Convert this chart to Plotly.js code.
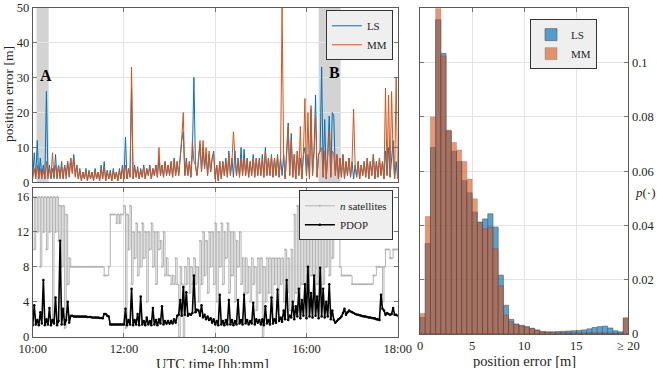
<!DOCTYPE html>
<html>
<head>
<meta charset="utf-8">
<script src="https://cdn.plot.ly/plotly-3.0.1.min.js"></script>
<style>html,body{margin:0;padding:0;background:#fff;}#chart{width:657px;height:368px;}</style>
</head>
<body>
<div id="chart"></div>
<script>
// ---- time axis (minutes after 10:00, one sample every 2 minutes) ----
const timeStart = 0;
const timeStep = 2;
const timeTickMinutes = [0, 120, 240, 360, 480];
const timeTickLabels = ['10:00', '12:00', '14:00', '16:00', '18:00'];

// ---- position error [m] ----
const lsError = [
  1, 8.5, 1.5, 12, 1, 7, 2, 5, 1, 26,
  2, 5, 1, 4, 1.5, 8, 1, 5, 1.5, 6,
  1, 5, 2, 6, 1.5, 7, 3, 8, 2, 5,
  1, 4, 0.5, 3, 1, 4, 0.5, 3.5, 1, 3,
  0.5, 4, 1, 3, 0.5, 5, 1, 6, 0.5, 3.5,
  1, 3.5, 0.5, 4, 1, 3, 0.5, 4, 1, 5,
  1, 13, 1, 4, 1.5, 27, 1, 5, 1.5, 4.5,
  1, 4, 1.5, 5, 1, 4, 2, 5, 1, 4,
  2, 5, 1.5, 7, 2, 5, 1.5, 6, 2, 5,
  2, 6, 1.5, 7, 2, 6, 2, 8, 12, 14.5,
  2, 7, 2, 6, 1.5, 8, 30, 5, 2, 6,
  11, 3, 10, 4, 8, 2, 8, 3, 7, 9,
  1, 5, 0.5, 6, 1, 6, 2, 7, 1.5, 9,
  2, 7, 1.5, 9, 2, 7, 1.5, 10, 2, 9.5,
  2, 7, 1.5, 6, 2, 8, 1.5, 7, 2, 7,
  2, 8, 1.5, 10, 2, 7, 2, 8, 1.5, 7,
  2, 8, 1.5, 7, 2, 8, 1, 9, 17, 2,
  14, 1.5, 8, 1, 9, 2, 7, 1, 8, 10,
  2, 8, 1, 21, 2, 9, 25, 1.5, 8, 9,
  33, 1.5, 18, 1, 8, 19, 1.5, 20, 19, 2,
  8, 1, 7, 1.5, 8, 1, 6, 2, 7, 1.5,
  6, 1, 5, 1.5, 6, 1, 5, 2, 6, 1.5,
  7, 1, 6, 2, 8, 1, 6, 1.5, 7, 2,
  6, 1, 9, 2, 10, 1.5, 7, 12, 1, 6, 1
];
const mmError = [
  1.5, 4, 1, 5, 1.5, 4, 1, 3.5, 1.5, 6,
  1, 4, 1.5, 8.5, 1, 5, 1.5, 5, 1, 4.5,
  1.5, 5, 1, 6, 2, 7, 2.5, 7, 1.5, 5,
  1, 3.5, 0.5, 3, 1, 3.5, 0.5, 3, 1, 3,
  0.5, 3.5, 1, 3, 0.5, 4, 1, 4.5, 0.5, 3,
  1, 3, 0.5, 3.5, 1, 3, 0.5, 3.5, 1, 4,
  1, 5, 1, 4, 1.5, 33, 1, 4.5, 1.5, 4,
  1, 3.5, 1.5, 4.5, 1, 4, 2, 4.5, 1, 4,
  2, 5, 1.5, 10, 2, 5, 1.5, 6, 2, 5,
  2, 6, 1.5, 6.5, 2, 6, 2, 7, 12.5, 20,
  2, 6, 2, 6, 1.5, 12, 6, 5, 2, 7,
  12, 3, 12, 4, 10, 2, 9, 3, 7, 8,
  1, 5, 0.5, 6, 1, 6, 2, 6, 1.5, 8,
  2, 6, 14.5, 7, 2, 6, 1.5, 7, 2, 7,
  2, 6.5, 1.5, 6, 2, 7, 1.5, 7, 2, 6.5,
  2, 7, 1.5, 9, 2, 7, 2, 7.5, 1.5, 7,
  2, 7.5, 1.5, 7, 50, 8, 1, 8, 16, 2,
  12, 1.5, 8, 1, 9, 2, 16, 1, 8, 24,
  2, 20, 1, 22, 2, 9, 19, 1.5, 8, 9,
  10, 1.5, 9, 1, 8, 15, 1.5, 9, 8, 2,
  8, 1, 7, 1.5, 8, 1, 6, 2, 7, 1.5,
  6, 21, 5, 1.5, 6, 1, 5, 2, 6, 1.5,
  7, 1, 6, 2, 8, 1, 6, 1.5, 7, 2,
  6, 1, 27, 2, 25, 1.5, 26, 7, 1, 30, 1
];

// ---- number of satellites and PDOP ----
const nSatellites = [
  16, 10, 16, 12, 16, 8, 16, 12, 16, 10,
  16, 12, 16, 2, 16, 12, 16, 11, 15, 8,
  15, 1, 14, 6, 9, 8, 8, 8, 8, 8,
  8, 8, 8, 8, 8, 8, 8, 8, 8, 8,
  8, 8, 8, 8, 8, 8, 8, 7, 7, 7,
  8, 14, 14, 14, 14, 13, 14, 13, 14, 14,
  15, 1, 14, 10, 15, 6, 12, 9, 13, 7,
  12, 8, 13, 9, 12, 4, 12, 10, 13, 8,
  12, 6, 12, 10, 11, 8, 12, 7, 9, 7,
  7, 6, 7, 6, 9, 6, 0, 8, 6, 0,
  8, 6, 9, 5, 8, 6, 9, 6, 8, 4,
  11, 6, 12, 7, 11, 5, 12, 8, 12, 6,
  13, 4, 12, 8, 13, 6, 12, 9, 13, 5,
  12, 7, 12, 4, 11, 8, 12, 6, 9, 5,
  9, 5, 8, 4, 9, 6, 8, 3, 9, 5,
  9, 0, 8, 4, 9, 5, 9, 3, 9, 6,
  9, 3, 9, 6, 9, 4, 10, 5, 9, 3,
  10, 4, 14, 5, 15, 3, 16, 6, 14, 4,
  16, 5, 15, 7, 16, 4, 15, 6, 16, 5,
  15, 6, 16, 8, 15, 7, 16, 9, 16, 15,
  13, 12, 8, 7, 7, 7, 7, 7, 7, 7,
  6, 6, 6, 6, 6, 6, 6, 6, 6, 6,
  6, 6, 6, 6, 7, 7, 8, 8, 8, 8,
  4, 8, 10, 10, 10, 9, 9, 10, 10, 10, 10
];
const pdop = [
  1.3, 3.6, 1.4, 1.9, 1.3, 2.8, 1.5, 6.5, 1.3, 2.0,
  1.4, 3.3, 1.3, 1.9, 1.5, 4.5, 1.3, 1.8, 11, 1.4,
  3.2, 1.4, 1.9, 4.0, 1.6, 2.4, 2.4, 2.3, 2.3, 2.3,
  2.3, 2.3, 2.3, 2.3, 2.3, 2.3, 2.25, 2.25, 2.25, 2.2,
  2.2, 2.2, 2.2, 2.2, 2.15, 2.15, 2.1, 2.6, 2.6, 2.4,
  2.3, 1.4, 1.4, 1.4, 1.4, 1.4, 1.4, 1.4, 1.4, 1.4,
  1.4, 3.2, 1.3, 1.9, 1.4, 5.5, 1.3, 1.9, 1.4, 2.6,
  1.3, 4.6, 1.4, 1.8, 1.3, 2.2, 1.4, 1.8, 1.3, 3.3,
  1.4, 1.9, 1.3, 2.0, 1.5, 3.5, 1.4, 1.8, 1.5, 1.8,
  1.5, 1.8, 1.5, 2.0, 1.6, 2.4, 2.5, 4.2, 2.4, 5.7,
  2.5, 5.1, 2.4, 2.6, 2.5, 2.7, 7.0, 2.8, 3.1, 3.0,
  2.4, 3.6, 2.2, 2.5, 2.0, 2.3, 1.9, 2.1, 1.6, 2.0,
  1.4, 1.8, 1.3, 4.8, 1.4, 1.8, 1.3, 1.9, 1.4, 4.2,
  1.4, 1.9, 1.3, 1.8, 1.4, 4.2, 1.5, 1.9, 1.4, 4.8,
  1.5, 1.9, 1.4, 1.8, 1.5, 3.9, 1.4, 2.0, 1.6, 1.9,
  1.4, 2.0, 1.3, 3.5, 1.5, 1.9, 1.4, 4.5, 1.5, 2.0,
  1.6, 5.4, 1.8, 2.2, 1.7, 3.0, 2.0, 6.5, 1.9, 2.4,
  2.2, 4.0, 2.0, 3.5, 2.3, 5.5, 2.1, 4.2, 2.4, 6.0,
  2.1, 8.0, 2.3, 5.0, 2.2, 7.0, 2.4, 4.6, 2.1, 7.9,
  2.3, 5.5, 2.2, 4.0, 2.3, 6.0, 2.0, 3.0, 1.9, 1.6,
  1.8, 2.0, 2.1, 2.3, 2.7, 3.2, 2.5, 2.8, 3.0, 2.9,
  2.8, 2.7, 2.6, 2.55, 2.5, 2.45, 2.4, 2.35, 2.3, 2.3,
  2.25, 2.2, 2.2, 2.15, 2.1, 2.1, 2.0, 2.0, 1.9, 4.8,
  3.2, 3.0, 2.5, 2.7, 2.6, 2.5, 2.6, 3.3, 2.5, 2.5, 2.4
];

// ---- highlighted intervals (minutes after 10:00) ----
const intervalA = [5, 21];
const intervalB = [376, 405];

// ---- histogram of position error (0.5 m bins, last bin is >= 20 m overflow) ----
const binCenters = [
  0.25, 0.75, 1.25, 1.75, 2.25, 2.75, 3.25, 3.75, 4.25, 4.75,
  5.25, 5.75, 6.25, 6.75, 7.25, 7.75, 8.25, 8.75, 9.25, 9.75,
  10.25, 10.75, 11.25, 11.75, 12.25, 12.75, 13.25, 13.75, 14.25, 14.75,
  15.25, 15.75, 16.25, 16.75, 17.25, 17.75, 18.25, 18.75, 19.25, 19.75
];
const lsProb = [
  0.0061, 0.0333, 0.0687, 0.1158, 0.1034, 0.0748, 0.0673, 0.0635, 0.0565, 0.052,
  0.0449, 0.0412, 0.0424, 0.0443, 0.0394, 0.0217, 0.0106, 0.0054, 0.0037, 0.0032,
  0.0027, 0.0021, 0.0015, 0.0009, 0.0008, 0.0008, 0.0009, 0.0010, 0.0011, 0.0012,
  0.0013, 0.0015, 0.0019, 0.0024, 0.0027, 0.0029, 0.0022, 0.0012, 0.0008, 0.0058
];
const mmProb = [
  0.0076, 0.0433, 0.080, 0.122, 0.1024, 0.0752, 0.0706, 0.0678, 0.0636, 0.0571,
  0.0498, 0.0412, 0.0388, 0.0394, 0.0314, 0.0178, 0.007, 0.0045, 0.0034, 0.003,
  0.0026, 0.002, 0.0014, 0.0008, 0.0007, 0.0006, 0.0006, 0.0005, 0.0005, 0.0005,
  0.0005, 0.0005, 0.0005, 0.0005, 0.0005, 0.0005, 0.0004, 0.0004, 0.0004, 0.006
];
const histTickVals = [0, 5, 10, 15, 20];
const histTickLabels = ['0', '5', '10', '15', '≥ 20'];
const probTickVals = [0, 0.02, 0.04, 0.06, 0.08, 0.1];
const probTickLabels = ['0', '0.02', '0.04', '0.06', '0.08', '0.1'];

// ---- styling ----
const FONT = '"Liberation Serif", "Times New Roman", serif';
const BLUE = '#0072BD', ORANGE = '#D95319';
const AXC = '#5a5a5a', GRID = '#e3e3e3', TXT = '#262626';

const traces = [
  {x0: timeStart, dx: timeStep, y: lsError, type: 'scatter', mode: 'lines', name: 'LS',
   line: {color: BLUE, width: 1}, xaxis: 'x2', yaxis: 'y2', legend: 'legend'},
  {x0: timeStart, dx: timeStep, y: mmError, type: 'scatter', mode: 'lines', name: 'MM',
   line: {color: ORANGE, width: 1}, xaxis: 'x2', yaxis: 'y2', legend: 'legend'},
  {x0: timeStart, dx: timeStep, y: nSatellites, type: 'scatter', mode: 'lines+markers', name: '<i>n</i> satellites',
   line: {color: '#b4b4b4', width: 1, shape: 'hv'}, marker: {color: '#b4b4b4', size: 2},
   xaxis: 'x', yaxis: 'y', legend: 'legend2'},
  {x0: timeStart, dx: timeStep, y: pdop, type: 'scatter', mode: 'lines+markers', name: 'PDOP',
   line: {color: '#000000', width: 1.6}, marker: {color: '#000000', size: 2.5},
   xaxis: 'x', yaxis: 'y', legend: 'legend2'},
  {x: binCenters, y: lsProb, type: 'bar', width: 0.5, name: 'LS', opacity: 0.65,
   marker: {color: BLUE, line: {color: '#000000', width: 0.6}}, xaxis: 'x3', yaxis: 'y3', legend: 'legend3'},
  {x: binCenters, y: mmProb, type: 'bar', width: 0.5, name: 'MM', opacity: 0.6,
   marker: {color: ORANGE, line: {color: '#000000', width: 0.3}}, xaxis: 'x3', yaxis: 'y3', legend: 'legend3'}
];

const axisBase = {
  showline: true, linecolor: AXC, linewidth: 1, mirror: 'ticks',
  ticks: 'inside', ticklen: 4, tickcolor: AXC, tickwidth: 0.8,
  showgrid: true, gridcolor: GRID, gridwidth: 1, zeroline: false,
  tickfont: {family: FONT, size: 12.5, color: TXT}
};
const legendBase = {
  bgcolor: '#efefef', bordercolor: '#333333', borderwidth: 1,
  font: {family: FONT, size: 11, color: TXT}, tracegroupgap: 0,
  xanchor: 'right', yanchor: 'top', itemwidth: 30
};

const layout = {
  width: 657, height: 368,
  margin: {l: 0, r: 0, t: 0, b: 0},
  paper_bgcolor: '#ffffff', plot_bgcolor: '#ffffff',
  showlegend: true, barmode: 'overlay', bargap: 0,
  font: {family: FONT, color: TXT},
  xaxis: Object.assign({}, axisBase, {domain: [0.0498, 0.6053], anchor: 'y', range: [0, 480],
    tickmode: 'array', tickvals: timeTickMinutes, ticktext: timeTickLabels}),
  yaxis: Object.assign({}, axisBase, {domain: [0.0851, 0.4883], anchor: 'x', range: [0, 17],
    tickmode: 'array', tickvals: [0, 4, 8, 12, 16]}),
  xaxis2: Object.assign({}, axisBase, {domain: [0.0498, 0.6053], anchor: 'y2', range: [0, 480],
    tickmode: 'array', tickvals: timeTickMinutes, showticklabels: false}),
  yaxis2: Object.assign({}, axisBase, {domain: [0.5041, 0.9796], anchor: 'x2', range: [0, 50],
    tickmode: 'array', tickvals: [0, 10, 20, 30, 40, 50]}),
  xaxis3: Object.assign({}, axisBase, {domain: [0.6393, 0.9566], anchor: 'y3', range: [0, 20],
    tickmode: 'array', tickvals: histTickVals, ticktext: histTickLabels}),
  yaxis3: Object.assign({}, axisBase, {domain: [0.0924, 0.9774], anchor: 'x3', range: [0, 0.12],
    side: 'right', tickmode: 'array', tickvals: probTickVals, ticktext: probTickLabels}),
  legend: Object.assign({}, legendBase, {x: 0.598, y: 0.972}),
  legend2: Object.assign({}, legendBase, {x: 0.598, y: 0.483}),
  legend3: Object.assign({}, legendBase, {x: 0.9087, y: 0.948}),
  shapes: [
    {type: 'rect', xref: 'x2', yref: 'y2', x0: intervalA[0], x1: intervalA[1], y0: 0, y1: 50,
     fillcolor: '#d3d3d3', line: {width: 0}, layer: 'below'},
    {type: 'rect', xref: 'x2', yref: 'y2', x0: intervalB[0], x1: intervalB[1], y0: 0, y1: 50,
     fillcolor: '#d3d3d3', line: {width: 0}, layer: 'below'}
  ],
  annotations: [
    {text: '<b>A</b>', xref: 'x2', yref: 'y2', x: 17.5, y: 30.7, showarrow: false,
     font: {family: FONT, size: 16, color: '#000'}},
    {text: '<b>B</b>', xref: 'x2', yref: 'y2', x: 397.5, y: 31.3, showarrow: false,
     font: {family: FONT, size: 16, color: '#000'}},
    {text: 'position error [m]', xref: 'paper', yref: 'paper', x: 8 / 657, y: 1 - 94 / 368,
     textangle: -90, showarrow: false, xanchor: 'center', yanchor: 'middle',
     font: {family: FONT, size: 13.5, color: TXT}},
    {text: 'UTC time [hh:mm]', xref: 'paper', yref: 'paper', x: 212 / 657, y: 1 - 364 / 368,
     showarrow: false, xanchor: 'center', yanchor: 'middle',
     font: {family: FONT, size: 14.5, color: TXT}},
    {text: 'position error [m]', xref: 'paper', yref: 'paper', x: 524 / 657, y: 1 - 361 / 368,
     showarrow: false, xanchor: 'center', yanchor: 'middle',
     font: {family: FONT, size: 14.5, color: TXT}},
    {text: '<i>p</i>(·)', xref: 'paper', yref: 'paper', x: 633 / 657, y: 1 - 192 / 368,
     showarrow: false, xanchor: 'left', yanchor: 'middle',
     font: {family: FONT, size: 13, color: TXT}}
  ]
};

Plotly.newPlot('chart', traces, layout, {displayModeBar: false, staticPlot: true});
</script>
</body>
</html>
